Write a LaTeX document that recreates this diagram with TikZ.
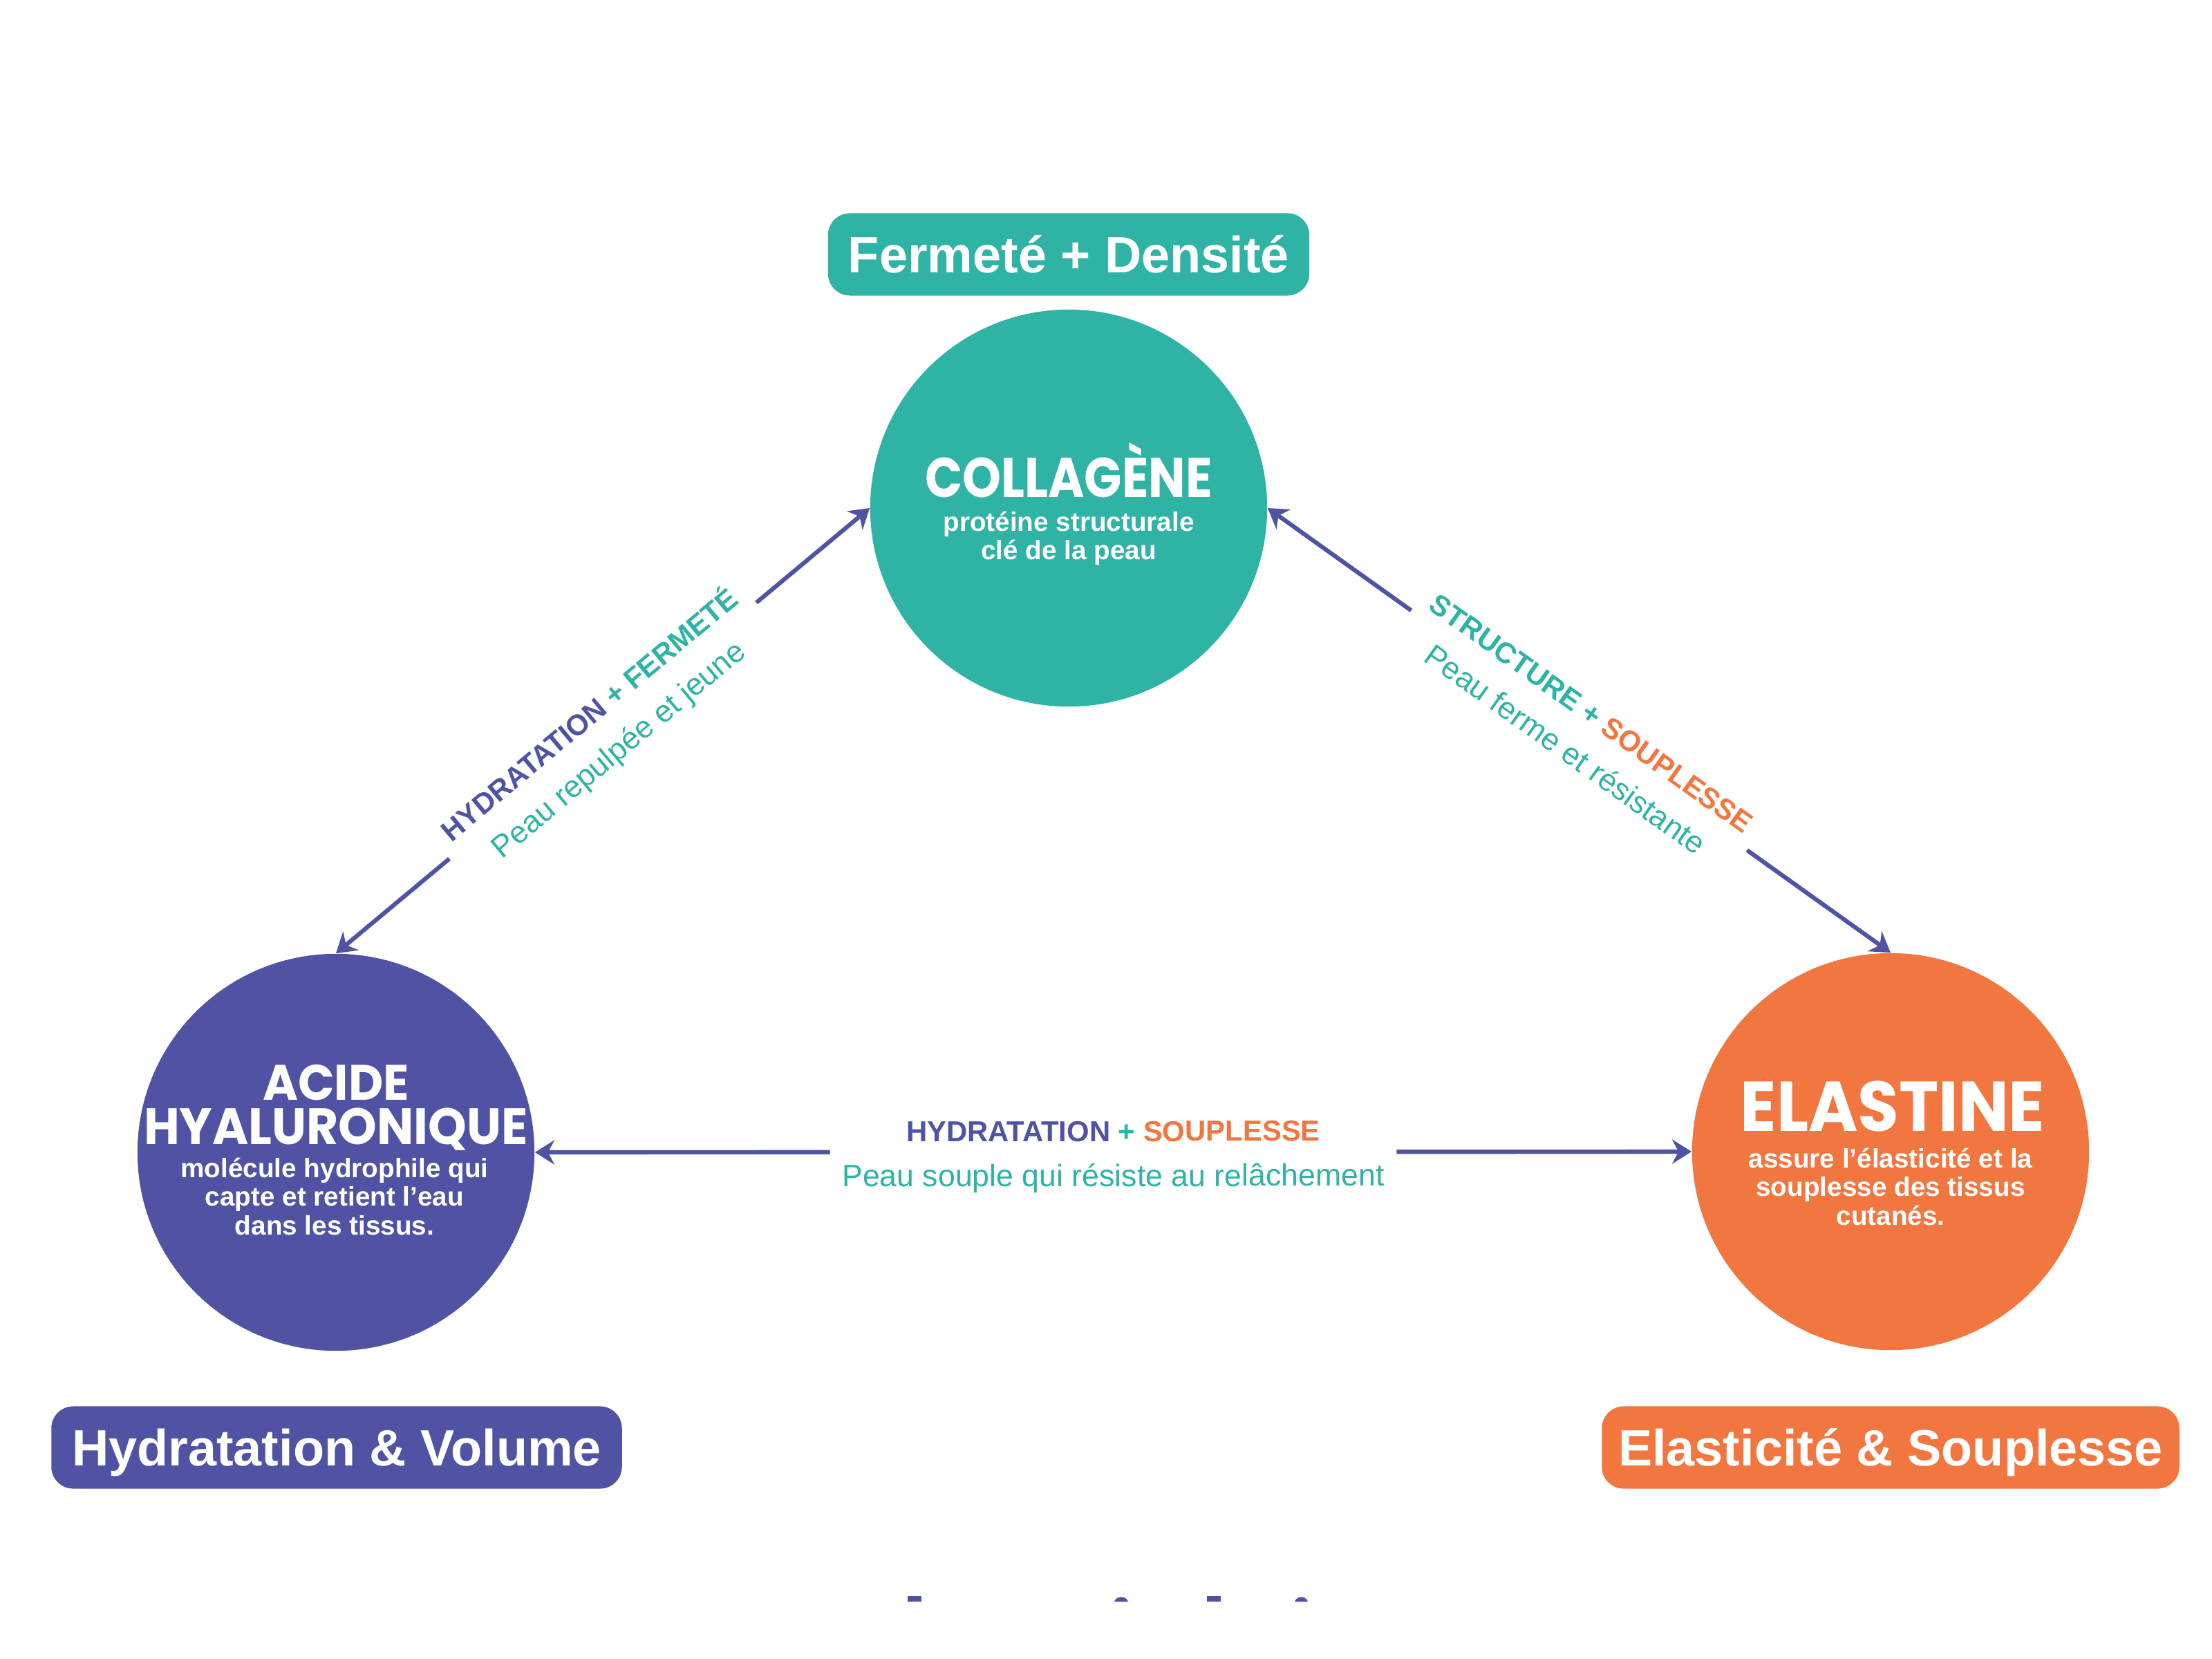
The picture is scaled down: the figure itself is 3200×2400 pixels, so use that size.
\documentclass[tikz,border=0pt]{standalone}
\usepackage{fontspec}
\usepackage{graphicx}
\setmainfont{Liberation Sans}
\newfontfamily\ttlfont{Poppins}
\usetikzlibrary{arrows.meta}
\definecolor{teal1}{RGB}{47,179,164}
\definecolor{purp}{RGB}{80,83,163}
\definecolor{orng}{RGB}{242,118,64}
\newcommand\edgelab[2]{\begin{tabular}{@{}c@{}}\rule{0pt}{13.9pt}{\fontsize{11.9}{14}\selectfont\bfseries #1}\\[4.5pt]{\fontsize{12.7}{14}\selectfont\color{teal1}#2}\end{tabular}}
\begin{document}
\begin{tikzpicture}[x=0.01cm,y=-0.01cm,
  bubble/.style={circle, minimum size=5.74cm, inner sep=0pt},
  tagbox/.style={rounded corners=9pt, minimum height=1.19cm, inner sep=0pt, text height=15pt, text depth=0pt, text=white, font=\fontsize{21}{25}\selectfont\bfseries},
  ttl/.style={text=white, anchor=base, inner sep=0pt},
  sub/.style={text=white, anchor=base, inner sep=0pt, font=\fontsize{11}{11.8}\selectfont\bfseries},
  link/.style={draw=purp, line width=1.75pt, {Stealth[length=8pt,width=10pt]}-{Stealth[length=8pt,width=10pt]}},
  lab/.style={fill=white, inner xsep=5pt, inner ysep=0pt, sloped, pos=0.5, font=\fontsize{12}{14}\selectfont},
]
\fill[white] (0,0) rectangle (3200,2400);
\useasboundingbox (0,0) rectangle (3200,2400);

% circles
\node[bubble, fill=teal1] (coll) at (1546,735) {};
\node[bubble, fill=purp] (acide) at (486,1667) {};
\node[bubble, fill=orng] (elas) at (2735,1666) {};

% titles
\node[ttl, font=\ttlfont\bfseries\fontsize{23}{23}\selectfont] (collT) at (1546,719) {\scalebox{0.88}[1]{COLLAGÈNE}};
\node[sub] (collS) at (1546,768) {\begin{tabular}[t]{@{}c@{}}protéine structurale\\clé de la peau\end{tabular}};

\node[ttl, font=\ttlfont\bfseries\fontsize{20.5}{20.5}\selectfont] (acideT1) at (486,1591) {\scalebox{0.96}[1]{ACIDE}};
\node[ttl, font=\ttlfont\bfseries\fontsize{21}{21}\selectfont] (acideT2) at (486,1655) {\scalebox{0.96}[1]{HYALURONIQUE}};
\node[sub] (acideS) at (484,1703) {\begin{tabular}[t]{@{}c@{}}molécule hydrophile qui\\capte et retient l’eau\\dans les tissus.\end{tabular}};

\node[ttl, font=\ttlfont\bfseries\fontsize{29}{29}\selectfont] (elasT) at (2738,1636) {\scalebox{0.95}[1]{ELASTINE}};
\node[sub] (elasS) at (2735,1689) {\begin{tabular}[t]{@{}c@{}}assure l’élasticité et la\\souplesse des tissus\\cutanés.\end{tabular}};

% tags
\node[tagbox, fill=teal1, minimum width=6.96cm] (tagTop) at (1546,368) {Fermeté + Densité};
\node[tagbox, fill=purp, minimum width=8.25cm] (tagLeft) at (487,2094) {Hydratation \& Volume};
\node[tagbox, fill=orng, minimum width=8.35cm] (tagRight) at (2735,2094) {Elasticité \& Souplesse};

% links
\draw[link] (acide.north) -- node[lab] (labL) {\edgelab{\color{purp}HYDRATATION \color{teal1}+ FERMETÉ}{Peau repulpée et jeune}} (coll.west);
\draw[link] (coll.east) -- node[lab] (labR) {\edgelab{\color{teal1}STRUCTURE + \color{orng}SOUPLESSE}{Peau ferme et résistante}} (elas.north);
\draw[link] (acide.east) -- node[lab] (labB) {\edgelab{\color{purp}HYDRATATION \color{teal1}+ \color{orng}SOUPLESSE}{Peau souple qui résiste au relâchement}} (elas.west);

% cut-off marks at bottom
\fill[purp] (1313,2309) rectangle (1333,2317);
\fill[purp] (1746,2309) rectangle (1766,2317);
\fill[purp] (1612,2317) .. controls (1615,2308) and (1629,2308) .. (1632,2317) -- cycle;
\fill[purp] (1873,2317) .. controls (1876,2308) and (1889,2308) .. (1892,2317) -- cycle;
\end{tikzpicture}
\end{document}
